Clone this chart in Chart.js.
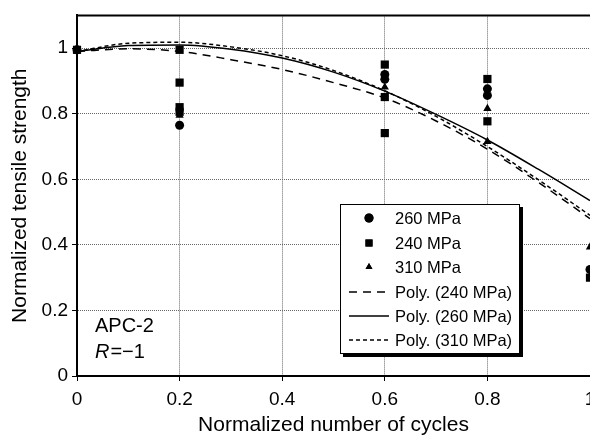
<!DOCTYPE html>
<html>
<head>
<meta charset="utf-8">
<script src="https://cdn.jsdelivr.net/npm/chart.js@4.4.1/dist/chart.umd.min.js"></script>
<style>
    html, body { margin: 0; padding: 0; background: #fff; overflow: hidden; }
    #wrap { position: relative; width: 590px; height: 441px; overflow: hidden; }
    #wrap canvas { position: absolute; left: 0; top: 0; }
</style>
</head>
<body>
<div id="wrap"><canvas id="grafico" width="700" height="441"></canvas></div>
<script>
// pontos medidos (x = ciclos normalizados, y = resistencia normalizada)
const x260 = [0, 0.2, 0.6, 0.6, 0.8, 0.8, 1]
const y260 = [0.995, 0.765, 0.92, 0.905, 0.876, 0.856, 0.325]
const x240 = [0, 0.2, 0.2, 0.2, 0.2, 0.6, 0.6, 0.6, 0.8, 0.8, 1]
const y240 = [0.995, 0.995, 0.895, 0.82, 0.806, 0.95, 0.851, 0.741, 0.906, 0.777, 0.30]
const x310 = [0, 0.2, 0.6, 0.8, 0.8, 1]
const y310 = [0.995, 0.795, 0.881, 0.816, 0.715, 0.393]

// linhas de tendencia
const polyX = [0, 0.1, 0.2, 0.3, 0.4, 0.5, 0.6, 0.7, 0.8, 0.9, 1]
const poly240 = [0.99, 0.998, 0.99, 0.965, 0.935, 0.895, 0.848, 0.778, 0.692, 0.59, 0.48]
const poly260 = [0.99, 1.008, 1.01, 0.997, 0.97, 0.927, 0.869, 0.798, 0.72, 0.63, 0.535]
const poly310 = [0.99, 1.015, 1.018, 1.004, 0.977, 0.932, 0.87, 0.792, 0.70, 0.598, 0.49]

const yTicks = [0, 0.2, 0.4, 0.6, 0.8, 1]
const xTicks = [0, 0.2, 0.4, 0.6, 0.8, 1]

const fonte = '"Liberation Sans", Arial, Helvetica, sans-serif'

function pares(xs, ys) {
    return xs.map((x, i) => ({ x: x, y: ys[i] }))
}

function rotulo(v) {
    return v === 0 ? '0' : v === 1 ? '1' : String(Math.round(v * 10) / 10)
}

// moldura superior, legenda e texto APC-2
const extras = {
    id: 'extras',
    afterDraw(chart) {
        const ctx = chart.ctx
        const area = chart.chartArea
        ctx.save()
        ctx.strokeStyle = '#000'
        ctx.lineWidth = 2
        ctx.beginPath()
        ctx.moveTo(area.left, area.top)
        ctx.lineTo(area.right + 20, area.top)
        ctx.stroke()

        // texto
        ctx.fillStyle = '#000'
        ctx.textBaseline = 'alphabetic'
        ctx.textAlign = 'left'
        ctx.font = '20px ' + fonte
        ctx.fillText('APC-2', 95, 332)
        ctx.font = 'italic 20px ' + fonte
        ctx.fillText('R', 95, 358)
        let w = ctx.measureText('R').width
        ctx.font = '20px ' + fonte
        ctx.fillText('=\u22121', 95 + w + 1, 358)

        // legenda
        const lx = 340, ly = 204, lw = 179, lh = 149
        ctx.fillStyle = '#000'
        ctx.fillRect(lx + 3, ly + 3, lw + 1, lh + 1)
        ctx.fillStyle = '#fff'
        ctx.fillRect(lx, ly, lw, lh)
        ctx.lineWidth = 1
        ctx.strokeStyle = '#000'
        ctx.strokeRect(lx + 0.5, ly + 0.5, lw, lh)

        const linhas = [
            { t: '260 MPa', tipo: 'circle', y: 218 },
            { t: '240 MPa', tipo: 'rect', y: 243 },
            { t: '310 MPa', tipo: 'triangle', y: 267 },
            { t: 'Poly. (240 MPa)', dash: [8, 6], y: 292 },
            { t: 'Poly. (260 MPa)', dash: [], y: 316 },
            { t: 'Poly. (310 MPa)', dash: [4, 3], y: 340 }
        ]
        ctx.font = '16.5px ' + fonte
        ctx.textBaseline = 'middle'
        linhas.forEach(l => {
            ctx.fillStyle = '#000'
            if (l.tipo) {
                Chart.helpers.drawPoint(ctx, {
                    pointStyle: l.tipo,
                    radius: l.tipo === 'rect' ? 5 : l.tipo === 'triangle' ? 4 : 4.5,
                    rotation: 0,
                    borderWidth: 0
                }, 369, l.y)
                ctx.fill()
            } else {
                ctx.beginPath()
                ctx.setLineDash(l.dash)
                ctx.lineWidth = 1.3
                ctx.moveTo(349, l.y)
                ctx.lineTo(389, l.y)
                ctx.stroke()
                ctx.setLineDash([])
            }
            ctx.fillText(l.t, 395, l.y + 1)
        })
        ctx.restore()
    }
}

const ctx = document.getElementById('grafico').getContext('2d')
const myChart = new Chart(ctx, {
    type: 'scatter',
    data: {
        datasets: [
            {
                label: '240 MPa', data: pares(x240, y240), order: 0, clip: false,
                pointStyle: 'rect', pointRadius: 5.8, pointBorderWidth: 0,
                backgroundColor: '#000', borderColor: '#000'
            },
            {
                label: '260 MPa', data: pares(x260, y260), order: 1, clip: false,
                pointStyle: 'circle', pointRadius: 4.5, pointBorderWidth: 0,
                backgroundColor: '#000', borderColor: '#000'
            },
            {
                label: '310 MPa', data: pares(x310, y310), order: 2, clip: false,
                pointStyle: 'triangle', pointRadius: 4.8, pointBorderWidth: 0,
                backgroundColor: '#000', borderColor: '#000'
            },
            {
                label: 'Poly. (240 MPa)', data: pares(polyX, poly240), order: 3,
                showLine: true, pointRadius: 0, borderColor: '#000', borderWidth: 1.5,
                borderDash: [8, 6], cubicInterpolationMode: 'monotone'
            },
            {
                label: 'Poly. (260 MPa)', data: pares(polyX, poly260), order: 4,
                showLine: true, pointRadius: 0, borderColor: '#000', borderWidth: 1.5,
                cubicInterpolationMode: 'monotone'
            },
            {
                label: 'Poly. (310 MPa)', data: pares(polyX, poly310), order: 5,
                showLine: true, pointRadius: 0, borderColor: '#000', borderWidth: 1.5,
                borderDash: [4, 3], cubicInterpolationMode: 'monotone'
            }
        ]
    },
    options: {
        responsive: false,
        animation: false,
        layout: { padding: { top: 7, right: 110, left: 0, bottom: 0 } },
        plugins: {
            legend: { display: false },
            tooltip: { enabled: false }
        },
        scales: {
            x: {
                type: 'linear',
                min: 0,
                max: 1,
                afterFit: s => { s.height = 65 },
                afterBuildTicks: s => { s.ticks = xTicks.map(v => ({ value: v })) },
                ticks: {
                    autoSkip: false,
                    maxRotation: 0,
                    padding: 7,
                    color: '#000',
                    font: { family: fonte, size: 19 },
                    callback: v => rotulo(v)
                },
                grid: { color: '#666', tickColor: '#000', tickLength: 5, lineWidth: 1 },
                border: { color: '#000', width: 2, dash: [1, 1] },
                title: {
                    display: true,
                    text: 'Normalized number of cycles',
                    color: '#000',
                    font: { family: fonte, size: 21 },
                    padding: { top: 0, bottom: 3 }
                }
            },
            y: {
                min: 0,
                max: 1.1,
                afterFit: s => { s.width = 77 },
                afterBuildTicks: s => { s.ticks = yTicks.map(v => ({ value: v })) },
                ticks: {
                    padding: 4,
                    color: '#000',
                    font: { family: fonte, size: 19 },
                    callback: v => rotulo(v)
                },
                grid: { color: '#666', tickColor: '#000', tickLength: 5, lineWidth: 1 },
                border: { color: '#000', width: 2, dash: [1, 1] },
                title: {
                    display: true,
                    text: 'Normalized tensile strength',
                    color: '#000',
                    font: { family: fonte, size: 21 },
                    padding: { top: 8, bottom: 0 }
                }
            }
        }
    },
    plugins: [extras]
});
</script>
</body>
</html>
